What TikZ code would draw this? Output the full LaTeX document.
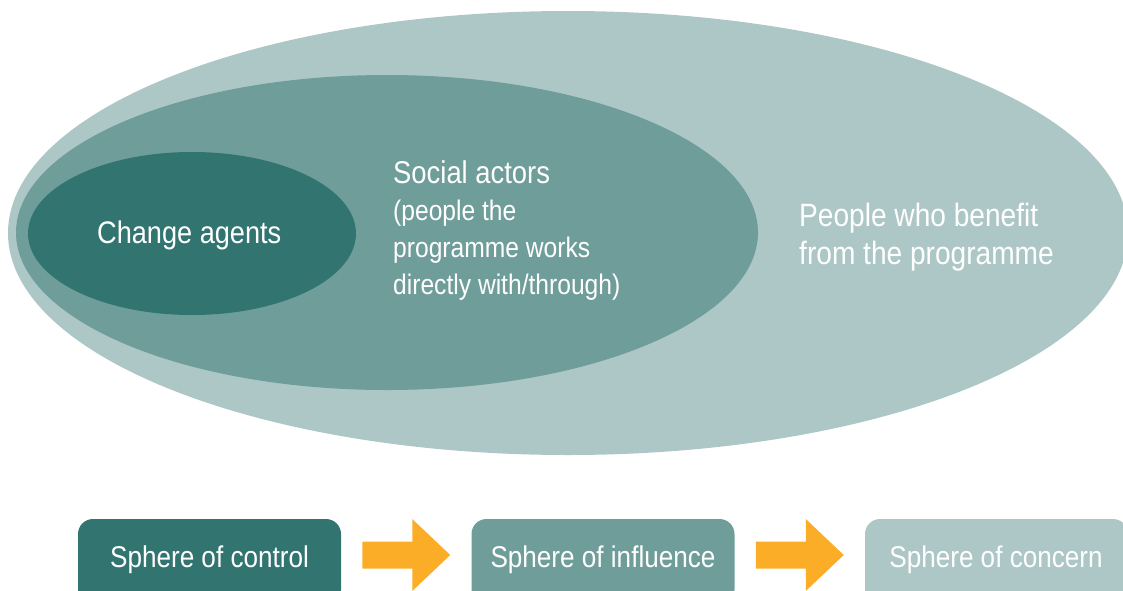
\documentclass[tikz,border=0pt]{standalone}
\usepackage{fontspec}
\setmainfont{Liberation Sans}[FakeStretch=0.87]
\usetikzlibrary{calc}
\definecolor{outerc}{HTML}{ADC7C6}
\definecolor{midc}{HTML}{6F9D9A}
\definecolor{darkc}{HTML}{317470}
\definecolor{arrowc}{HTML}{FBAD27}
\begin{document}
\begin{tikzpicture}[x=1pt,y=-1pt,
  sphere/.style={rectangle,rounded corners=15pt,minimum width=263pt,minimum height=86pt,inner sep=0pt},
  lbl/.style={text=white,inner sep=0pt},
  boxlbl/.style={lbl,anchor=base,font=\fontsize{30}{36}\selectfont}]
\useasboundingbox (0,0) rectangle (1123,590);
\clip (0,0) rectangle (1123,590);
% ellipses
\fill[outerc] (568,233) ellipse [x radius=560, y radius=222];
\fill[midc] (387,232.5) ellipse [x radius=371, y radius=157.5];
\fill[darkc] (192,233.5) ellipse [x radius=164, y radius=81.5];
% ellipse texts (base anchor = baseline of last line)
\node[lbl,anchor=base west,font=\fontsize{31.2}{37}\selectfont] (ca) at (97,243) {Change agents};
\node[lbl,anchor=base west,font=\fontsize{31.5}{37}\selectfont] (sa) at (393,183) {Social actors};
\node[lbl,anchor=base west,align=left,font=\fontsize{28.3}{37}\selectfont] (sad) at (393,294) {(people the\\programme works\\directly with/through)};
\node[lbl,anchor=base west,align=left,font=\fontsize{32.3}{38}\selectfont] (pb) at (799,264) {People who benefit\\from the programme};
% bottom spheres
\node[sphere,fill=darkc] (b1) at (209.5,562) {};
\node[sphere,fill=midc] (b2) at (603,562) {};
\node[sphere,fill=outerc] (b3) at (996.5,562) {};
\node[boxlbl] (t1) at (209.5,567) {Sphere of control};
\node[boxlbl] (t2) at (603,567) {Sphere of influence};
\node[boxlbl] (t3) at (996,567) {Sphere of concern};
% arrows
\coordinate (a1) at ($(b1.east)!0.5!(b2.west)+(0,-7)$);
\coordinate (a2) at ($(b2.east)!0.5!(b3.west)+(0,-7)$);
\foreach \a in {a1,a2}{
  \fill[arrowc] (\a) ++(-44,-13.5) -- ++(50,0) -- ++(0,-22.5) -- ++(38,36) -- ++(-38,36) -- ++(0,-22.5) -- ++(-50,0) -- cycle;
}
\end{tikzpicture}
\end{document}
